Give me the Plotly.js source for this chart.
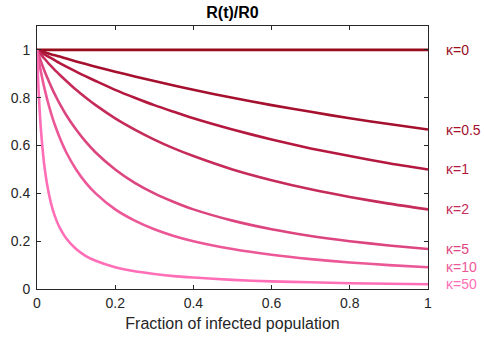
<!DOCTYPE html>
<html>
<head>
<meta charset="utf-8">
<script src="https://cdn.plot.ly/plotly-3.0.1.min.js"></script>
<style>html,body{margin:0;padding:0;background:#fff;}#chart{width:484px;height:341px;}</style>
</head>
<body>
<div id="chart"></div>
<script>
const fraction = [0, 0.0025, 0.005, 0.01, 0.02, 0.03, 0.04, 0.05, 0.06, 0.075, 0.1, 0.125, 0.15, 0.2, 0.25, 0.3, 0.35, 0.4, 0.5, 0.6, 0.7, 0.8, 0.9, 1];
const kappaLabels = ["κ=0", "κ=0.5", "κ=1", "κ=2", "κ=5", "κ=10", "κ=50"];
const k0   = [1,1,1,1,1,1,1,1,1,1,1,1,1,1,1,1,1,1,1,1,1,1,1,1];
const k05  = [1,0.999,0.998,0.995,0.990,0.985,0.980,0.976,0.971,0.964,0.952,0.941,0.930,0.909,0.889,0.870,0.851,0.833,0.800,0.769,0.741,0.714,0.690,0.667];
const k1   = [1,0.998,0.995,0.990,0.980,0.971,0.962,0.952,0.943,0.930,0.909,0.889,0.870,0.833,0.800,0.769,0.741,0.714,0.667,0.625,0.588,0.556,0.526,0.500];
const k2   = [1,0.995,0.990,0.980,0.962,0.943,0.926,0.909,0.893,0.870,0.833,0.800,0.769,0.714,0.667,0.625,0.588,0.556,0.500,0.455,0.417,0.385,0.357,0.333];
const k5   = [1,0.988,0.976,0.952,0.909,0.870,0.833,0.800,0.769,0.727,0.667,0.615,0.571,0.500,0.444,0.400,0.364,0.333,0.286,0.250,0.222,0.200,0.182,0.167];
const k10  = [1,0.976,0.952,0.909,0.833,0.769,0.714,0.667,0.625,0.571,0.500,0.444,0.400,0.333,0.286,0.250,0.222,0.200,0.167,0.143,0.125,0.111,0.100,0.091];
const k50  = [1,0.889,0.800,0.667,0.500,0.400,0.333,0.286,0.250,0.211,0.167,0.138,0.118,0.091,0.074,0.063,0.054,0.048,0.038,0.032,0.028,0.024,0.022,0.020];
const series = [k0, k05, k1, k2, k5, k10, k50];
const colors = ["#980c1c", "#a4102e", "#b4183f", "#c62c5a", "#dc4580", "#ec5798", "#ff6eb6"];
const xTicks = [0, 0.2, 0.4, 0.6, 0.8, 1];
const xTickText = ["0", "0.2", "0.4", "0.6", "0.8", "1"];
const yTicks = [0, 0.2, 0.4, 0.6, 0.8, 1];
const yTickText = ["0", "0.2", "0.4", "0.6", "0.8", "1"];

const FONT = "Liberation Sans, Arial, sans-serif";
const traces = series.map((s, i) => ({
  x: fraction, y: s, type: "scatter", mode: "lines",
  line: {color: colors[i], width: 2.6, shape: "spline", smoothing: 0.6},
  hoverinfo: "none", showlegend: false
}));
const annotations = series.map((s, i) => ({
  x: fraction[fraction.length - 1], y: s[s.length - 1], xref: "x", yref: "y",
  text: kappaLabels[i], showarrow: false, xanchor: "left", yanchor: "middle",
  xshift: 16, font: {family: FONT, size: 14, color: colors[i]}
}));

const axisCommon = {
  showgrid: false, zeroline: false, showline: true, mirror: "ticks",
  linecolor: "#262626", linewidth: 1, ticks: "inside", ticklen: 4, tickcolor: "#262626",
  automargin: false,
  tickfont: {family: FONT, size: 14, color: "#262626"}
};

const layout = {
  width: 484, height: 341,
  margin: {l: 37, r: 56, t: 26, b: 52},
  paper_bgcolor: "#fff", plot_bgcolor: "#fff",
  title: {text: "<b>R(t)/R0</b>", font: {family: FONT, size: 16, color: "#000"}, x: 0.5, xanchor: "center", xref: "paper", yref: "container", y: 0.965, yanchor: "middle"},
  xaxis: Object.assign({}, axisCommon, {range: [0, 1], tickvals: xTicks, ticktext: xTickText, ticklabelstandoff: 1,
    title: {text: "Fraction of infected population", standoff: 8, font: {family: FONT, size: 16, color: "#262626"}}}),
  yaxis: Object.assign({}, axisCommon, {range: [0, 1.1], tickvals: yTicks, ticktext: yTickText, ticklabelstandoff: 3}),
  annotations: annotations
};

Plotly.newPlot("chart", traces, layout, {displayModeBar: false, staticPlot: true});
</script>
</body>
</html>
